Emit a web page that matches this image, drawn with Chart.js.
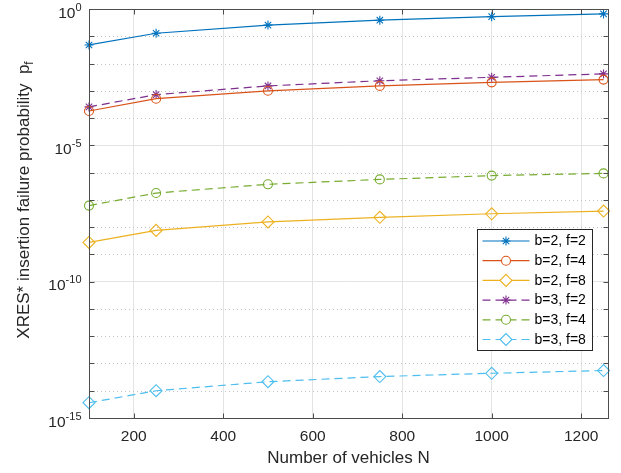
<!DOCTYPE html>
<html>
<head>
<meta charset="utf-8">
<script src="https://cdn.jsdelivr.net/npm/chart.js@4.4.0/dist/chart.umd.min.js"></script>
<style>
  html, body { margin: 0; padding: 0; background: #fff; }
</style>
</head>
<body>
<canvas id="pfChart" width="621" height="473"></canvas>
<script>
// x values (number of vehicles) and p_f per configuration
const vehicles = [100, 250, 500, 750, 1000, 1250];
const pfB2F2 = [4.8e-2, 1.29e-1, 2.57e-1, 3.89e-1, 5.25e-1, 6.61e-1];
const pfB2F4 = [1.82e-4, 5.13e-4, 1.0e-3, 1.51e-3, 2.04e-3, 2.57e-3];
const pfB2F8 = [2.75e-9, 7.59e-9, 1.55e-8, 2.29e-8, 3.09e-8, 3.89e-8];
const pfB3F2 = [2.57e-4, 7.24e-4, 1.51e-3, 2.34e-3, 3.13e-3, 4.17e-3];
const pfB3F4 = [6.17e-8, 1.78e-7, 3.72e-7, 5.62e-7, 7.76e-7, 9.33e-7];
const pfB3F8 = [3.63e-15, 1.0e-14, 2.14e-14, 3.31e-14, 4.37e-14, 5.5e-14];
const seriesLabels = ["b=2, f=2", "b=2, f=4", "b=2, f=8", "b=3, f=2", "b=3, f=4", "b=3, f=8"];
const xTicks = [200, 400, 600, 800, 1000, 1200];
const yDecades = [0, -1, -2, -3, -4, -5, -6, -7, -8, -9, -10, -11, -12, -13, -14, -15];
const yLabelDecades = [0, -5, -10, -15];

const FONT = "'Liberation Sans', Arial, Helvetica, sans-serif";
const AXIS = "#4d4d4d";
const colors = ["#0072BD", "#D95319", "#EDB120", "#7E2F8E", "#77AC30", "#4DBEEE"];
const markers = ["star", "circle", "rectRot", "star", "circle", "rectRot"];
const markerSize = { star: 4.5, circle: 4.5, rectRot: 6 };
const allSeries = [pfB2F2, pfB2F4, pfB2F8, pfB3F2, pfB3F4, pfB3F8];

Chart.defaults.font.family = FONT;

const datasets = allSeries.map((vals, k) => ({
    label: seriesLabels[k],
    data: vals.map((v, i) => ({ x: vehicles[i], y: v })),
    borderColor: colors[k],
    backgroundColor: "transparent",
    pointBorderColor: colors[k],
    pointBackgroundColor: "transparent",
    pointStyle: markers[k],
    pointRadius: markerSize[markers[k]],
    pointBorderWidth: 1.1,
    borderWidth: 1.2,
    borderDash: k >= 3 ? [8, 5] : [],
    tension: 0,
    clip: false
}));

// matlab look: dotted minor grid, inward ticks, box, superscript labels, legend
const matlabAxes = {
    id: "matlabAxes",
    beforeDatasetsDraw(chart) {
        const { ctx, chartArea: a, scales: { y } } = chart;
        ctx.save();
        ctx.strokeStyle = "#c4c4c4";
        ctx.lineWidth = 1;
        ctx.setLineDash([1, 3]);
        yDecades.forEach(e => {
            if (yLabelDecades.includes(e)) return;
            const py = Math.round(y.getPixelForValue(Math.pow(10, e))) + 0.5;
            ctx.beginPath();
            ctx.moveTo(a.left, py);
            ctx.lineTo(a.right, py);
            ctx.stroke();
        });
        ctx.restore();
    },
    afterDatasetsDraw(chart) {
        const { ctx, chartArea: a, scales: { x, y } } = chart;
        const L = Math.round(a.left) + 0.5, R = Math.round(a.right) + 0.5;
        const T = Math.round(a.top) + 0.5, B = Math.round(a.bottom) + 0.5;
        ctx.save();
        ctx.strokeStyle = AXIS;
        ctx.lineWidth = 1;
        ctx.strokeRect(L, T, R - L, B - T);
        ctx.beginPath();
        xTicks.forEach(v => {
            const px = Math.round(x.getPixelForValue(v)) + 0.5;
            ctx.moveTo(px, B); ctx.lineTo(px, B - 5);
            ctx.moveTo(px, T); ctx.lineTo(px, T + 5);
        });
        yDecades.forEach(e => {
            const py = Math.round(y.getPixelForValue(Math.pow(10, e))) + 0.5;
            ctx.moveTo(L, py); ctx.lineTo(L + 5, py);
            ctx.moveTo(R, py); ctx.lineTo(R - 5, py);
        });
        ctx.stroke();
        ctx.restore();
    },
    afterDraw(chart) {
        const { ctx, chartArea: a, scales: { y } } = chart;
        ctx.save();
        ctx.fillStyle = "#262626";

        // y tick labels 10^e
        ctx.textBaseline = "alphabetic";
        ctx.textAlign = "left";
        yLabelDecades.forEach(e => {
            const py = y.getPixelForValue(Math.pow(10, e));
            const exp = String(e);
            ctx.font = "11px " + FONT;
            const ew = ctx.measureText(exp).width;
            ctx.font = "15.5px " + FONT;
            const bw = ctx.measureText("10").width;
            const right = a.left - 7.5;
            ctx.fillText("10", right - ew - bw, py + 8.5);
            ctx.font = "11px " + FONT;
            ctx.fillText(exp, right - ew, py + 1.5);
        });

        // y axis title with subscript
        const main = "XRES* insertion failure probability  p";
        ctx.font = "17px " + FONT;
        const mw = ctx.measureText(main).width;
        ctx.font = "12px " + FONT;
        const sw = ctx.measureText("f").width;
        const total = mw + sw;
        ctx.translate(29, 200);
        ctx.rotate(-Math.PI / 2);
        ctx.font = "17px " + FONT;
        ctx.fillText(main, -total / 2, 0);
        ctx.font = "12px " + FONT;
        ctx.fillText("f", -total / 2 + mw, 3.5);
        ctx.restore();

        // legend
        const lx = 477.5, ly = 229.5, lw = 115, lh = 121, row = 19.7;
        ctx.save();
        ctx.fillStyle = "#fff";
        ctx.fillRect(lx, ly, lw, lh);
        ctx.strokeStyle = "#262626";
        ctx.lineWidth = 1;
        ctx.strokeRect(lx, ly, lw, lh);
        chart.data.datasets.forEach((ds, k) => {
            const cy = ly + 11.5 + k * row;
            ctx.save();
            ctx.strokeStyle = ds.borderColor;
            ctx.lineWidth = ds.borderWidth;
            ctx.setLineDash(ds.borderDash);
            ctx.beginPath();
            ctx.moveTo(lx + 5, cy);
            ctx.lineTo(lx + 52, cy);
            ctx.stroke();
            ctx.setLineDash([]);
            ctx.fillStyle = "#fff";
            ctx.lineWidth = ds.pointBorderWidth;
            Chart.helpers.drawPoint(ctx, { pointStyle: ds.pointStyle, radius: ds.pointRadius, rotation: 0, borderWidth: ds.pointBorderWidth }, lx + 28.5, cy);
            ctx.restore();
            ctx.fillStyle = "#000";
            ctx.font = "14px " + FONT;
            ctx.textBaseline = "middle";
            ctx.textAlign = "left";
            ctx.fillText(ds.label, lx + 57, cy + 0.5);
        });
        ctx.restore();
    }
};

new Chart(document.getElementById("pfChart").getContext("2d"), {
    type: "line",
    data: { datasets },
    options: {
        responsive: false,
        animation: false,
        events: [],
        layout: { padding: { left: 0, right: 13, top: 9, bottom: 0 } },
        plugins: { legend: { display: false }, tooltip: { enabled: false } },
        scales: {
            x: {
                type: "linear",
                min: 100,
                max: 1260,
                afterBuildTicks: s => { s.ticks = xTicks.map(v => ({ value: v })); },
                afterFit: s => { s.height = 55; },
                grid: { color: "#e3e3e3", lineWidth: 1, drawTicks: false },
                border: { display: false },
                ticks: {
                    color: "#262626", font: { size: 15.5 }, padding: 9, maxRotation: 0, autoSkip: false,
                    callback: v => String(v)
                },
                title: {
                    display: true, text: "Number of vehicles N", color: "#262626",
                    font: { size: 17 }, padding: { top: 0, bottom: 4 }
                }
            },
            y: {
                type: "logarithmic",
                min: 1e-15,
                max: 1,
                afterBuildTicks: s => { s.ticks = yDecades.map(e => ({ value: Math.pow(10, e) })); },
                afterFit: s => { s.width = 89; },
                grid: {
                    color: c => yLabelDecades.includes(yDecades[c.index]) ? "#e3e3e3" : "transparent",
                    drawTicks: false
                },
                border: { display: false },
                ticks: { display: false }
            }
        }
    },
    plugins: [matlabAxes]
});
</script>
</body>
</html>
